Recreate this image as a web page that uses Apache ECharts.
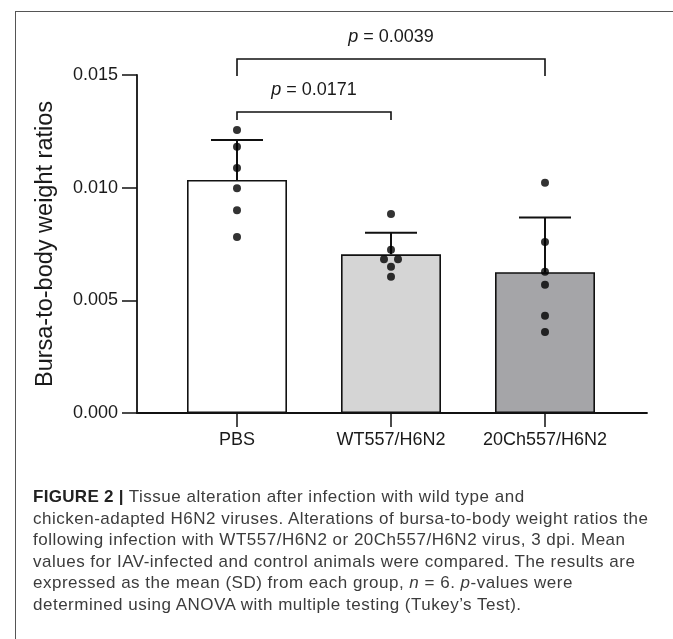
<!DOCTYPE html>
<html>
<head>
<meta charset="utf-8">
<script src="https://cdn.jsdelivr.net/npm/echarts@6/dist/echarts.min.js"></script>
<style>
  html, body { margin: 0; padding: 0; background: #fff; }
  #wrap { position: relative; width: 673px; height: 639px; overflow: hidden; background: #fff; }
  #chart { position: absolute; left: 0; top: 0; width: 673px; height: 639px; }
  #frame { position: absolute; left: 15px; top: 11px; width: 700px; height: 700px;
           border-left: 1.5px solid #555; border-top: 1.5px solid #555; pointer-events: none; }
  #caption { position: absolute; left: 33px; top: 486px; width: 640px;
             font-family: "Liberation Sans", Arial, Helvetica, sans-serif; font-size: 17px;
             letter-spacing: 0.5px; line-height: 21.6px; color: #3c3c3c; white-space: pre; }
  #caption b { color: #222; letter-spacing: 0.3px; }
</style>
</head>
<body>
<div id="wrap">
  <div id="chart"></div>
  <div id="frame"></div>
  <div id="caption"><b>FIGURE 2 |</b> Tissue alteration after infection with wild type and
chicken-adapted H6N2 viruses. Alterations of bursa-to-body weight ratios the
following infection with WT557/H6N2 or 20Ch557/H6N2 virus, 3 dpi. Mean
values for IAV-infected and control animals were compared. The results are
expressed as the mean (SD) from each group, <i>n</i> = 6. <i>p</i>-values were
determined using ANOVA with multiple testing (Tukey’s Test).</div>
</div>
<script>
// ---- data ----
const categories = ['PBS', 'WT557/H6N2', '20Ch557/H6N2'];
const means = [0.01034, 0.00704, 0.00625];
const sds = [0.00178, 0.00096, 0.00243];
const pbsPoints = [0.01256, 0.01182, 0.01087, 0.00997, 0.00900, 0.00781];
const wtPoints = [0.00883, 0.00725, 0.00682, 0.00682, 0.00649, 0.00605];
const chPoints = [0.01022, 0.00759, 0.00627, 0.00569, 0.00432, 0.00359];
const yTicks = [0, 0.005, 0.010, 0.015];
const bracketPairs = [[0, 1], [0, 2]];
const bracketLevels = [0.01336, 0.01571];
const bracketLegEnds = [0.01300, 0.01496];
const pValues = ['0.0171', '0.0039'];

// ---- styles ----
const barColors = ['#ffffff', '#d5d5d5', '#a5a5a8'];
const FONT = '"Liberation Sans", Arial, Helvetica, sans-serif';
const groups = [pbsPoints, wtPoints, chPoints];

const errData = means.map((m, i) => [i, m, m + sds[i]]);

const dotData = [];
groups.forEach((pts, gi) => {
  const counts = {};
  pts.forEach(v => { counts[v] = (counts[v] || 0) + 1; });
  const seen = {};
  pts.forEach(v => {
    const n = counts[v];
    const k = seen[v] || 0; seen[v] = k + 1;
    const off = n > 1 ? (k - (n - 1) / 2) * 14 : 0;
    dotData.push({ value: [gi, v], symbolOffset: [off, 0] });
  });
});

const bracketData = bracketPairs.map((p, i) => [p[0], p[1], bracketLevels[i], bracketLegEnds[i], i]);

const gridPos = { top: 75, bottom: 226 };
const option = {
  backgroundColor: '#fff',
  animation: false,
  grid: [
    Object.assign({ left: 160, right: 51 }, gridPos),
    Object.assign({ left: 137, right: 26 }, gridPos)
  ],
  xAxis: [
    {
      type: 'category', gridIndex: 0, data: categories,
      axisLine: { show: false },
      axisTick: { show: true, alignWithLabel: true, length: 14, lineStyle: { color: '#111', width: 1.5 } },
      axisLabel: { fontFamily: FONT, fontSize: 18, color: '#1a1a1a', margin: 18, interval: 0, hideOverlap: false },
      splitLine: { show: false }
    },
    {
      type: 'value', gridIndex: 1, min: 0, max: 1,
      axisLine: { show: true, lineStyle: { color: '#111', width: 1.8 } },
      axisTick: { show: false }, axisLabel: { show: false }, splitLine: { show: false }
    }
  ],
  yAxis: [
    { type: 'value', gridIndex: 0, min: 0, max: 0.015, show: false, splitLine: { show: false } },
    {
      type: 'value', gridIndex: 1, min: 0, max: 0.015, interval: 0.005,
      name: 'Bursa-to-body weight ratios', nameLocation: 'middle', nameGap: 79,
      nameTextStyle: { fontFamily: FONT, fontSize: 23.5, color: '#1a1a1a' },
      axisLine: { show: true, lineStyle: { color: '#111', width: 1.8 } },
      axisTick: { show: true, length: 15, lineStyle: { color: '#111', width: 1.5 } },
      axisLabel: { fontFamily: FONT, fontSize: 18, color: '#1a1a1a', margin: 19,
        formatter: v => yTicks.includes(+v.toFixed(3)) ? v.toFixed(3) : '' },
      splitLine: { show: false }
    }
  ],
  series: [
    {
      type: 'bar', xAxisIndex: 0, yAxisIndex: 0, barWidth: 100, z: 2,
      data: means.map((m, i) => ({ value: m, itemStyle: { color: barColors[i] } })),
      itemStyle: { borderColor: '#111', borderWidth: 1.6 }
    },
    {
      type: 'custom', xAxisIndex: 0, yAxisIndex: 0, z: 3,
      data: errData,
      renderItem: (params, api) => {
        const x = api.value(0);
        const base = api.coord([x, api.value(1)]);
        const top = api.coord([x, api.value(2)]);
        const hw = 26;
        const st = { stroke: '#111', lineWidth: 2, fill: 'none' };
        return { type: 'group', children: [
          { type: 'line', shape: { x1: base[0], y1: base[1], x2: top[0], y2: top[1] }, style: st },
          { type: 'line', shape: { x1: top[0] - hw, y1: top[1], x2: top[0] + hw, y2: top[1] }, style: st }
        ]};
      }
    },
    {
      type: 'scatter', xAxisIndex: 0, yAxisIndex: 0, z: 4,
      symbol: 'circle', symbolSize: 8,
      itemStyle: { color: '#000' },
      data: dotData
    },
    {
      type: 'custom', xAxisIndex: 0, yAxisIndex: 0, z: 5, clip: false,
      data: bracketData,
      renderItem: (params, api) => {
        const a = api.coord([api.value(0), api.value(2)]);
        const b = api.coord([api.value(1), api.value(2)]);
        const legA = api.coord([api.value(0), api.value(3)]);
        const st = { stroke: '#111', lineWidth: 1.6, fill: 'none' };
        const idx = api.value(4);
        return { type: 'group', children: [
          { type: 'polyline', shape: { points: [[a[0], legA[1]], a, b, [b[0], legA[1]]] }, style: st },
          { type: 'text', style: {
              x: (a[0] + b[0]) / 2, y: a[1] - 22,
              text: '{i|p} = ' + pValues[idx],
              align: 'center', verticalAlign: 'middle',
              fontFamily: FONT, fontSize: 18, fill: '#1a1a1a',
              rich: { i: { fontStyle: 'italic', fontFamily: FONT, fontSize: 18, fill: '#1a1a1a' } }
          } }
        ]};
      }
    }
  ]
};

const chart = echarts.init(document.getElementById('chart'), null, { renderer: 'canvas' });
chart.setOption(option);
</script>
</body>
</html>
